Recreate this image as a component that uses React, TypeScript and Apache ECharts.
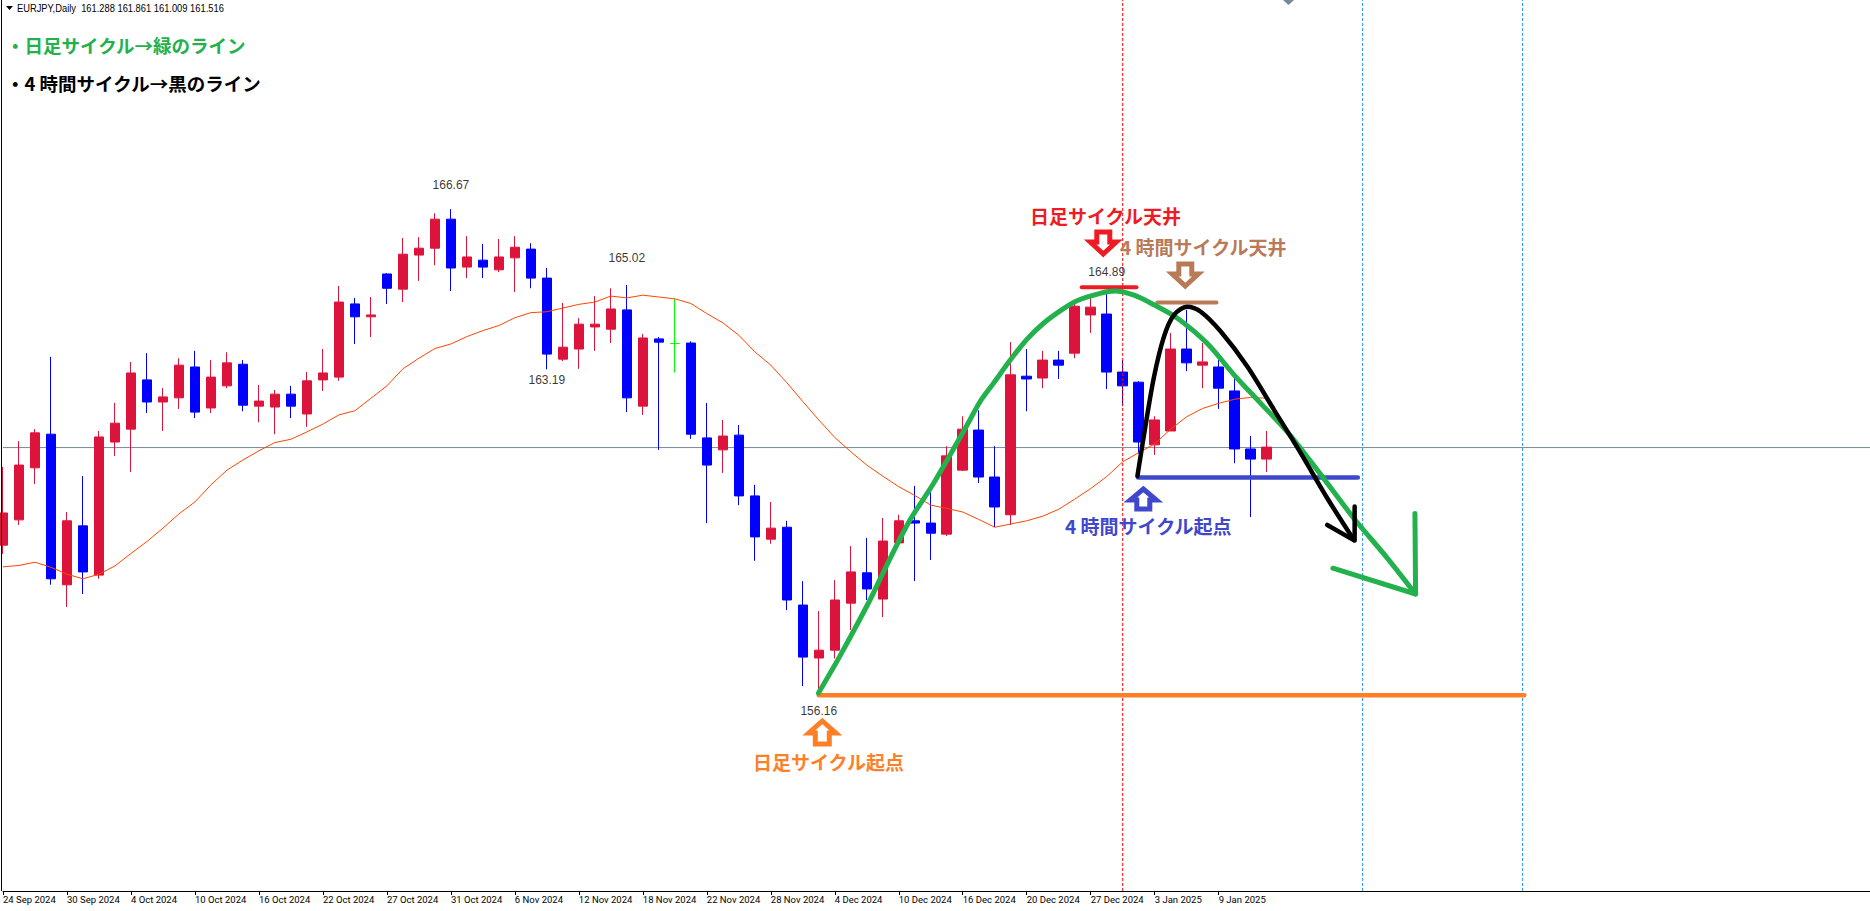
import React, { useEffect, useRef } from "react";
import * as echarts from "echarts";

// open, close, low, high
const candles: number[][] = [
  [159.37,160.07,159.18,161.07],[159.92,161.11,159.81,161.63],[161.05,161.81,160.70,161.89],[161.78,158.64,158.51,163.46],
  [158.51,159.90,158.03,160.09],[159.79,158.79,158.31,160.87],[158.72,161.72,158.64,161.85],[161.61,162.02,161.31,162.46],
  [161.89,163.11,160.96,163.35],[162.96,162.48,162.24,163.54],[162.48,162.59,161.85,162.78],[162.57,163.28,162.33,163.43],
  [163.24,162.26,162.13,163.59],[162.35,163.02,162.24,163.39],[162.83,163.33,162.78,163.56],[163.30,162.41,162.28,163.39],
  [162.39,162.50,162.04,162.85],[162.37,162.65,161.78,162.74],[162.65,162.39,162.13,162.83],[162.22,162.94,161.94,163.13],
  [162.96,163.11,162.72,163.63],[163.02,164.65,162.94,165.00],[164.61,164.33,163.74,164.74],[164.33,164.37,163.89,164.76],
  [165.26,164.95,164.61,165.28],[164.93,165.69,164.65,166.04],[165.67,165.82,165.11,166.06],[165.82,166.45,165.45,166.58],
  [166.45,165.39,164.89,166.67],[165.41,165.63,165.17,166.08],[165.56,165.41,165.17,165.91],[165.35,165.63,165.30,166.02],
  [165.61,165.84,164.87,166.08],[165.80,165.17,164.95,165.93],[165.17,163.52,163.19,165.39],[163.41,163.67,163.37,164.63],
  [163.63,164.17,163.20,164.30],[164.11,164.17,163.59,164.78],[164.06,164.50,163.76,164.95],[164.48,162.57,162.26,165.02],
  [162.39,163.87,162.20,163.96],[163.85,163.78,161.44,163.89],[163.75,163.75,163.12,164.73],[163.76,161.78,161.68,163.80],
  [161.70,161.11,159.85,162.46],[161.44,161.74,160.94,162.09],[161.76,160.44,160.24,161.98],[160.44,159.55,159.03,160.68],
  [159.50,159.74,159.40,160.31],[159.76,158.18,157.96,159.90],[158.07,156.94,156.31,158.59],[156.92,157.09,156.16,157.94],
  [157.09,158.18,156.91,158.61],[158.11,158.79,157.53,159.35],[158.77,158.42,158.18,159.53],[158.20,159.46,157.81,159.96],
  [159.42,159.90,159.37,160.03],[159.90,159.85,158.59,160.66],[159.85,159.63,159.05,160.52],[159.61,161.31,159.57,161.52],
  [161.00,161.89,160.98,162.17],[161.87,160.85,160.72,162.30],[160.85,160.20,159.76,161.52],[160.03,163.07,159.81,163.78],
  [163.04,162.98,162.28,163.63],[163.00,163.39,162.78,163.59],[163.39,163.28,162.98,163.59],[163.54,164.56,163.43,164.69],
  [164.37,164.54,163.98,164.77],[164.39,163.13,162.76,164.89],[163.13,162.83,162.39,163.39],[162.91,161.61,161.36,162.93],
  [161.55,162.09,161.33,162.17],[161.85,163.63,161.85,163.98],[163.63,163.33,163.15,164.48],[163.28,163.35,162.78,163.76],
  [163.24,162.78,162.33,163.39],[162.72,161.46,161.15,163.07],[161.46,161.24,159.98,161.74],[161.24,161.50,160.96,161.85],
];

const movingAverage: number[] = [
  158.90,158.93,159.00,158.89,158.74,158.64,158.74,158.92,159.19,159.45,159.74,160.05,160.31,160.68,161.00,161.22,
  161.42,161.60,161.67,161.83,162.00,162.20,162.29,162.56,162.83,163.20,163.43,163.64,163.74,163.90,164.03,164.14,
  164.31,164.42,164.44,164.52,164.60,164.65,164.78,164.74,164.80,164.76,164.72,164.62,164.40,164.20,163.93,163.57,
  163.28,162.90,162.49,162.09,161.71,161.40,161.11,160.87,160.64,160.45,160.24,160.17,160.09,159.93,159.76,159.83,
  159.90,160.00,160.15,160.37,160.60,160.86,161.18,161.38,161.57,161.89,162.16,162.34,162.45,162.54,162.58,162.56,
];

const tickLabels = [
  "24 Sep 2024","30 Sep 2024","4 Oct 2024","10 Oct 2024","16 Oct 2024","22 Oct 2024","27 Oct 2024","31 Oct 2024",
  "6 Nov 2024","12 Nov 2024","18 Nov 2024","22 Nov 2024","28 Nov 2024","4 Dec 2024","10 Dec 2024","16 Dec 2024",
  "20 Dec 2024","27 Dec 2024","3 Jan 2025","9 Jan 2025",
];

const dojiIndex = 42;
const currentPrice = 161.49;
const redVLine = 70;
const blueVLines = [85, 95];

const priceLabels: [number, number][] = [[28,166.67],[39,165.02],[69,164.89],[34,163.19],[51,156.16]];
const priceLabelOffsets = [-24,-27,-19,11,18];

const greenCurve: number[][] = [
  [50.98,156.16],[52.3,156.95],[54.2,158.18],[55.1,158.83],[56.64,159.88],[58.17,160.71],[60.16,161.91],[61.09,162.49],
  [61.93,162.89],[62.97,163.39],[64.01,163.84],[65.05,164.19],[66.09,164.46],[67.14,164.68],[68.59,164.84],[69.5,164.89],[70.71,164.80],[71.96,164.59],[73.42,164.30],
  [75.29,163.75],[76.96,163.07],[78.63,162.45],[80.29,161.83],[82.17,161.00],[84.46,159.95],[86.54,159.09],[88.31,158.31],
];
const greenHead: number[][] = [[83.14,158.87],[88.31,158.31],[88.27,160.06]];
const blackCurve: number[][] = [
  [70.92,160.87],[71.38,161.87],[71.96,163.03],[72.58,163.90],[73.21,164.37],[74.04,164.55],[74.88,164.44],[76.13,164.01],
  [77.79,163.25],[79.46,162.31],[81.13,161.37],[82.79,160.39],[84.46,159.48],
];
const blackHead: number[][] = [[84.5,160.21],[84.5,159.47],[82.79,159.81]];
const orangeLevel: number[][] = [[51,156.11],[95.1,156.11]];
const indigoLevel: number[][] = [[70.96,160.84],[84.7,160.84]];
const redLevel: number[][] = [[67.44,164.97],[70.86,164.97]];
const brownLevel: number[][] = [[72.17,164.64],[75.86,164.64]];

const title = "EURJPY,Daily  161.288 161.861 161.009 161.516";
const CJK = "'Noto Sans CJK JP'";
const GREEN = "#22B14C", BLACK = "#000000", ORANGE = "#FF7F27", RED = "#ED1C24", BROWN = "#B97A57", INDIGO = "#3F48CC";

const N = 118;
const YMIN = 151.86, YMAX = 171.21;

function handLine(data: number[][], color: string, width: number, z: number, smooth: number | boolean = false) {
  return {
    type: "line", xAxisIndex: 1, yAxisIndex: 0, data, smooth, symbol: "none", silent: true, z,
    lineStyle: { color, width, cap: "round", join: "round" },
  };
}
function vLine(x: number, color: string) {
  return {
    type: "line", xAxisIndex: 1, yAxisIndex: 0, symbol: "none", silent: true, z: 3,
    data: [[x, YMIN], [x, YMAX]],
    lineStyle: { color, width: 1, type: [3, 2] },
  };
}
function arrow(cx: number, tip: number, shoulder: number, end: number, wing: number, shaft: number, color: string) {
  return {
    type: "polygon", z: 50,
    shape: { points: [[cx, tip], [cx + wing, shoulder], [cx + shaft, shoulder], [cx + shaft, end], [cx - shaft, end], [cx - shaft, shoulder], [cx - wing, shoulder]] },
    style: { fill: "#ffffff", stroke: color, lineWidth: 5, lineJoin: "miter" },
  };
}
function note(text: string, x: number, y: number, fill: string, size = 19) {
  return {
    type: "text", z: 60, x, y,
    style: { text, x: 0, y: 0, fill, font: `bold ${size}px ${CJK}`, textAlign: "left", textVerticalAlign: "middle", textBaseline: "middle" },
  };
}

export default function App() {
  const ref = useRef<HTMLDivElement>(null);
  useEffect(() => {
    document.body.style.margin = "0";
    document.body.style.overflow = "hidden";
    const chart = echarts.init(ref.current!, null, { renderer: "svg" });
    const categories = Array.from({ length: N }, (_, i) => (i % 4 === 0 && tickLabels[i / 4]) || "");
    const isTick = (i: number) => i % 4 === 0 && i / 4 < tickLabels.length;
    const candleData = candles.map((c, i) =>
      i === dojiIndex
        ? { value: c, itemStyle: { color: "#00FF00", color0: "#00FF00", borderColor: "#00FF00", borderColor0: "#00FF00", borderColorDoji: "#00FF00" } }
        : c
    );
    chart.setOption({
      animation: false,
      backgroundColor: "#ffffff",
      grid: { left: 2.5, right: 0.5, top: 0, bottom: 20, containLabel: false },
      xAxis: [
        {
          type: "category", data: categories, boundaryGap: false,
          axisLine: { show: true, lineStyle: { color: "#000", width: 1 } },
          axisTick: { show: true, length: 4, interval: (i: number) => isTick(i), lineStyle: { color: "#000" } },
          axisLabel: {
            show: true, interval: (i: number) => isTick(i), align: "left", margin: 3, hideOverlap: false,
            color: "#000", fontFamily: "Roboto", fontSize: 9.5,
          },
          splitLine: { show: false },
        },
        { type: "value", min: 0, max: N - 1, show: false, splitLine: { show: false } },
      ],
      yAxis: { type: "value", min: YMIN, max: YMAX, show: false, splitLine: { show: false } },
      series: [
        {
          type: "candlestick", xAxisIndex: 0, yAxisIndex: 0, data: candleData, barWidth: 10, z: 2, silent: true,
          itemStyle: { color: "#DC143C", color0: "#0000FF", borderColor: "#DC143C", borderColor0: "#0000FF", borderColorDoji: "#DC143C", borderWidth: 1 },
        },
        {
          type: "line", xAxisIndex: 0, yAxisIndex: 0, data: movingAverage, symbol: "none", silent: true, z: 4,
          lineStyle: { color: "#FF4500", width: 1 },
        },
        {
          type: "line", xAxisIndex: 1, yAxisIndex: 0, symbol: "none", silent: true, z: 1,
          data: [[0, currentPrice], [N - 1, currentPrice]],
          lineStyle: { color: "#778899", width: 1 },
        },
        vLine(redVLine, "#FF0000"),
        ...blueVLines.map((x) => vLine(x, "#1E90FF")),
        {
          type: "scatter", xAxisIndex: 1, yAxisIndex: 0, symbolSize: 0, silent: true, z: 5,
          data: priceLabels.map((p, i) => ({
            value: p,
            label: {
              show: true, position: "inside", offset: [0, priceLabelOffsets[i]],
              formatter: p[1].toFixed(2), color: "#000", fontFamily: "'Liberation Sans'", fontSize: 12,
            },
          })),
        },
        handLine(orangeLevel, ORANGE, 4.5, 10),
        handLine(indigoLevel, INDIGO, 4.5, 10),
        handLine(redLevel, RED, 4, 10),
        handLine(brownLevel, BROWN, 4, 10),
        handLine(greenCurve, GREEN, 5, 11, 0.3),
        handLine(greenHead, GREEN, 5, 11),
        handLine(blackCurve, BLACK, 4.5, 12, 0.3),
        handLine(blackHead, BLACK, 4.5, 12),
      ],
      graphic: [
        { type: "line", z: 40, shape: { x1: 1.5, y1: 0, x2: 1.5, y2: 891 }, style: { stroke: "#000", lineWidth: 1 } },
        { type: "polygon", z: 40, shape: { points: [[6, 6], [13, 6], [9.5, 10]] }, style: { fill: "#000" } },
        { type: "polygon", z: 40, shape: { points: [[1283, 0], [1294, 0], [1288.5, 5]] }, style: { fill: "#778899" } },
        {
          type: "text", z: 60, x: 17, y: 8, scaleX: 0.85,
          style: { text: title, x: 0, y: 0, fill: "#000", font: "11px 'Liberation Sans'", textAlign: "left", textVerticalAlign: "middle", textBaseline: "middle" },
        },
        note("・日足サイクル→緑のライン", 6, 45, GREEN, 18.5),
        note("・4 時間サイクル→黒のライン", 6, 83, BLACK, 18.5),
        note("日足サイクル天井", 1030, 215, RED),
        note("4 時間サイクル天井", 1120, 246, BROWN),
        note("4 時間サイクル起点", 1065, 525, INDIGO),
        note("日足サイクル起点", 753, 761, ORANGE),
        arrow(1103.3, 254, 242, 232, 13, 6.5, RED),
        arrow(1185.3, 286, 274, 264, 13, 6.5, BROWN),
        arrow(1143.3, 489, 500, 509, 13, 6.5, INDIGO),
        arrow(822.3, 721, 733, 744, 13.5, 7, ORANGE),
      ],
    });
    return () => chart.dispose();
  }, []);
  return (
    <div style={{ width: 1870, height: 911, overflow: "hidden" }}>
      <div ref={ref} style={{ width: 1875, height: 911 }} />
    </div>
  );
}
